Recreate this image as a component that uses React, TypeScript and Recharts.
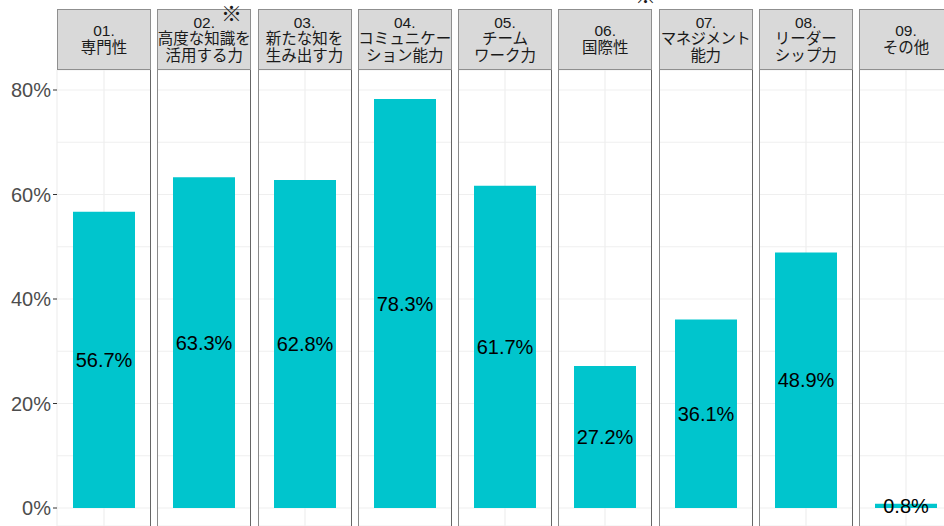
import { BarChart, Bar, XAxis, YAxis, CartesianGrid, LabelList } from 'recharts';

const CATEGORIES = [
    '01.\n専門性',
    '02.\n高度な知識を\n活用する力',
    '03.\n新たな知を\n生み出す力',
    '04.\nコミュニケー\nション能力',
    '05.\nチーム\nワーク力',
    '06.\n国際性',
    '07.\nマネジメント\n能力',
    '08.\nリーダー\nシップ力',
    '09.\nその他',
];
const VALUES = [56.7, 63.3, 62.8, 78.3, 61.7, 27.2, 36.1, 48.9, 0.8];
const AXIS_TICKS = [0, 20, 40, 60, 80];
const GRID_TICKS = [0, 10, 20, 30, 40, 50, 60, 70, 80];

const DOMAIN: [number, number] = [-3.445, 83.83];
const PANEL_W = 94;
const PANEL_STEP = 100.25;
const AXIS_W = 57;
const STRIP_TOP = 9;
const STRIP_H = 61;
const PLOT_TOP = 70;
const PLOT_H = 456;
const FONT = '"Liberation Sans", Arial, "Noto Sans CJK JP", sans-serif';
const BAR_COLOR = '#00C5CD';

function Panel({ index }: { index: number }) {
    const first = index === 0;
    const left = AXIS_W + index * PANEL_STEP;
    const data = [{ name: CATEGORIES[index], value: VALUES[index] }];

    return (
        <>
            <div
                style={{
                    position: 'absolute', left, top: STRIP_TOP, width: PANEL_W, height: STRIP_H,
                    background: '#D9D9D9', border: '1px solid #8f8f8f', boxSizing: 'border-box',
                    display: 'flex', alignItems: 'center', justifyContent: 'center',
                    textAlign: 'center', whiteSpace: 'pre', fontSize: 15.5, lineHeight: '16.5px',
                    color: '#1A1A1A', fontFamily: FONT, letterSpacing: index === 6 ? -0.6 : 0,
                }}
            >
                {CATEGORIES[index]}
            </div>
            <div style={{ position: 'absolute', left: first ? 0 : left, top: PLOT_TOP }}>
                <BarChart
                    width={first ? AXIS_W + PANEL_W : PANEL_W}
                    height={PLOT_H}
                    data={data}
                    margin={{ top: 0, right: 0, bottom: 0, left: 0 }}
                    barSize={62}
                >
                    <CartesianGrid yAxisId="g" stroke="#EFEFEF" strokeWidth={1.2} />
                    <XAxis dataKey="name" hide />
                    <YAxis
                        yAxisId="v"
                        hide={!first}
                        width={first ? AXIS_W : 0}
                        type="number"
                        domain={DOMAIN}
                        ticks={AXIS_TICKS}
                        allowDataOverflow
                        axisLine={false}
                        tickSize={4}
                        tickMargin={2}
                        tickLine={{ stroke: '#333333' }}
                        tick={{ fontSize: 20, fill: '#4D4D4D', fontFamily: FONT }}
                        tickFormatter={(v: number) => `${v}%`}
                    />
                    <YAxis yAxisId="g" hide width={0} type="number" domain={DOMAIN} ticks={GRID_TICKS} allowDataOverflow />
                    <Bar yAxisId="v" dataKey="value" fill={BAR_COLOR} isAnimationActive={false}>
                        <LabelList
                            dataKey="value"
                            position="center"
                            formatter={(v: any) => `${v}%`}
                            style={{ fontSize: 20, fill: '#000000', fontFamily: FONT }}
                        />
                    </Bar>
                </BarChart>
            </div>
            {!first && (
                <div style={{ position: 'absolute', left, top: PLOT_TOP, width: 1, height: PLOT_H, background: '#8a8a8a' }} />
            )}
            <div style={{ position: 'absolute', left: left + PANEL_W - 1, top: PLOT_TOP, width: 1, height: PLOT_H, background: '#666666' }} />
        </>
    );
}

export default function App() {
    return (
        <div
            style={{
                position: 'absolute', left: 0, top: 0, width: 944, height: 526,
                overflow: 'hidden', background: '#FFFFFF', fontFamily: FONT,
            }}
        >
            {CATEGORIES.map((_, i) => (
                <Panel key={i} index={i} />
            ))}
            <span style={{ position: 'absolute', left: 221, top: -1, fontSize: 21, lineHeight: '26px', color: '#1A1A1A', fontFamily: '"Noto Sans CJK JP", sans-serif' }}>※</span>
            <span style={{ position: 'absolute', left: 635, top: -19, fontSize: 21, lineHeight: '26px', color: '#1A1A1A', fontFamily: '"Noto Sans CJK JP", sans-serif' }}>※</span>
        </div>
    );
}
